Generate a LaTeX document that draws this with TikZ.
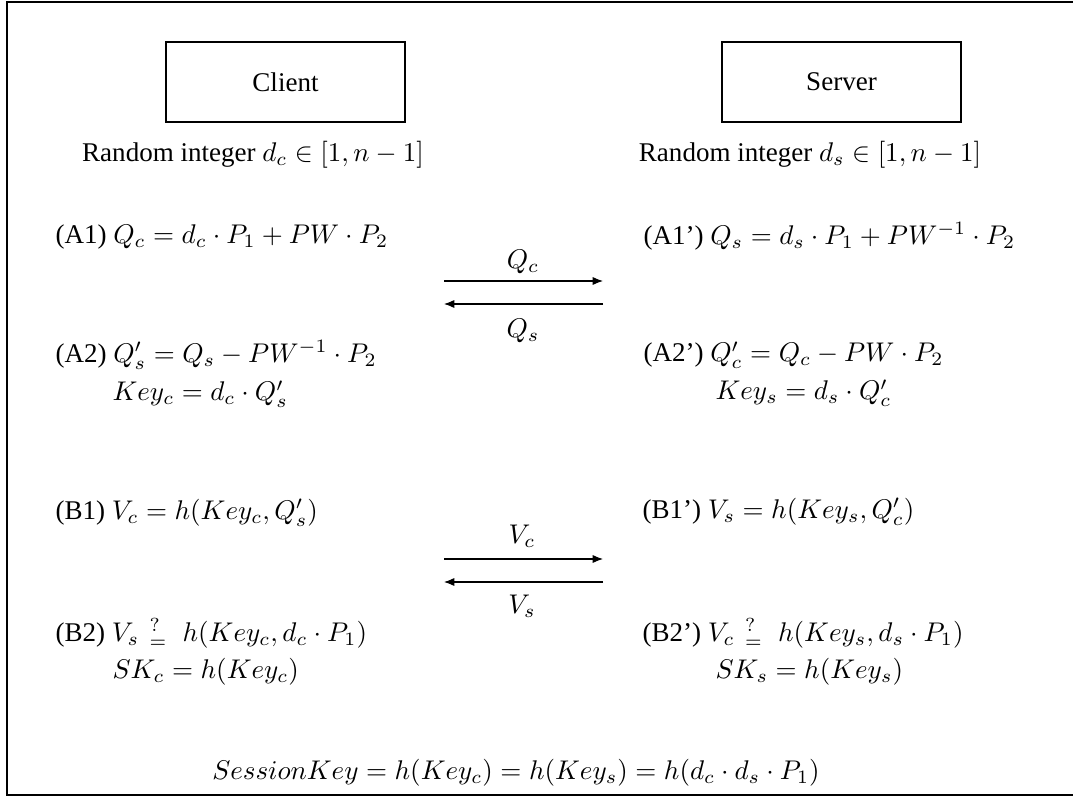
\documentclass[tikz,border=0pt]{standalone}
\usepackage{fontspec}
\setmainfont{Liberation Serif}
\usetikzlibrary{arrows.meta}
\newcommand{\qeq}{\mkern7mu{}^{?}_{=}\mkern10mu}
\begin{document}
\begin{tikzpicture}[x=0.37pt,y=-0.37pt,
  party/.style={draw,minimum width=239*0.37pt,minimum height=80*0.37pt,inner sep=0pt},
  eq/.style={anchor=west,inner sep=0pt},
  msg/.style={-{Latex[length=3.8pt,width=3pt]}},
  lbl/.style={inner sep=0pt}]
\useasboundingbox (0,0) rectangle (1073,798);
\draw (7,2) rectangle (1090,795);
\node[party] (client) at (285.5,82) {Client};
\node[party] (server) at (841.5,82) {Server};
\node[inner sep=0pt] (randc) at (253,155) {Random integer $d_c\in[1,n-1]$};
\node[inner sep=0pt] (rands) at (810,155) {Random integer $d_s\in[1,n-1]$};
% client side
\node[eq] (a1) at (55,237) {(A1) $Q_c=d_c\cdot P_1+PW\cdot P_2$};
\node[eq] (a2) at (55,355) {(A2) $Q'_s=Q_s-PW^{-1}\cdot P_2$};
\node[eq] (keyc) at (112,394) {$Key_c=d_c\cdot Q'_s$};
\node[eq] (b1) at (55,513) {(B1) $V_c=h(Key_c,Q'_s)$};
\node[eq] (b2) at (55,633) {(B2) $V_s\qeq h(Key_c,d_c\cdot P_1)$};
\node[eq] (skc) at (112,672) {$SK_c=h(Key_c)$};
% server side
\node[eq] (a1s) at (643,236) {(A1') $Q_s=d_s\cdot P_1+PW^{-1}\cdot P_2$};
\node[eq] (a2s) at (643,355) {(A2') $Q'_c=Q_c-PW\cdot P_2$};
\node[eq] (keys) at (715,393) {$Key_s=d_s\cdot Q'_c$};
\node[eq] (b1s) at (642,512) {(B1') $V_s=h(Key_s,Q'_c)$};
\node[eq] (b2s) at (642,633) {(B2') $V_c\qeq h(Key_s,d_s\cdot P_1)$};
\node[eq] (sks) at (715,672) {$SK_s=h(Key_s)$};
% messages
\coordinate (qcl) at (444,281); \coordinate (qcr) at (603,281);
\coordinate (qsl) at (444,304); \coordinate (qsr) at (603,304);
\coordinate (vcl) at (444,559); \coordinate (vcr) at (603,559);
\coordinate (vsl) at (444,582); \coordinate (vsr) at (603,582);
\draw[msg] (qcl) -- (qcr);
\draw[msg] (qsr) -- (qsl);
\draw[msg] (vcl) -- (vcr);
\draw[msg] (vsr) -- (vsl);
\node[lbl] (qclab) at (523,262) {$Q_c$};
\node[lbl] (qslab) at (523,331) {$Q_s$};
\node[lbl] (vclab) at (522,536) {$V_c$};
\node[lbl] (vslab) at (522,606) {$V_s$};
% session key
\node[inner sep=0pt] (sess) at (516,773) {$SessionKey=h(Key_c)=h(Key_s)=h(d_c\cdot d_s\cdot P_1)$};
\end{tikzpicture}
\end{document}
